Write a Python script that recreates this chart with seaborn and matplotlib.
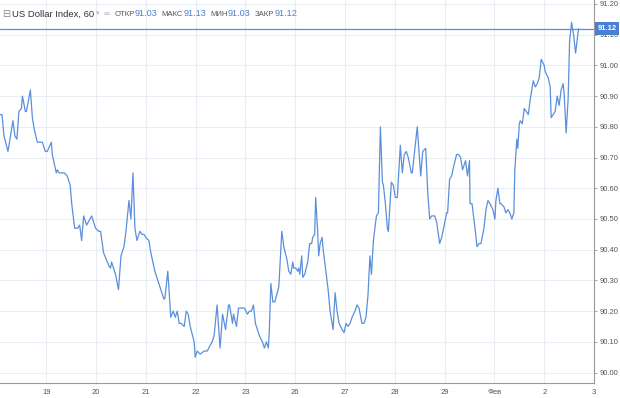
import numpy as np
import pandas as pd
import matplotlib
matplotlib.use("Agg")
import matplotlib.pyplot as plt
import seaborn as sns

# hourly DXY trace, t = days from the "19" session boundary
t = [-0.93, -0.89, -0.85, -0.77, -0.67, -0.63, -0.59, -0.55, -0.50, -0.48, -0.42, -0.40,
     -0.32, -0.28, -0.24, -0.18, -0.12, -0.08, -0.02, 0.02, 0.10, 0.12, 0.20, 0.22, 0.26,
     0.30, 0.36, 0.42, 0.48, 0.51, 0.57, 0.63, 0.67, 0.71, 0.75, 0.81, 0.91, 0.99, 1.05,
     1.09, 1.15, 1.25, 1.29, 1.31, 1.39, 1.45, 1.50, 1.56, 1.60, 1.66, 1.70, 1.74, 1.78,
     1.82, 1.88, 1.92, 1.96, 2.00, 2.06, 2.10, 2.18, 2.24, 2.30, 2.36, 2.38, 2.44, 2.50,
     2.55, 2.59, 2.63, 2.67, 2.71, 2.77, 2.81, 2.85, 2.89, 2.97, 2.99, 3.03, 3.09, 3.17,
     3.23, 3.33, 3.37, 3.43, 3.49, 3.54, 3.60, 3.66, 3.68, 3.74, 3.76, 3.82, 3.86, 3.90,
     3.94, 3.98, 4.04, 4.08, 4.12, 4.16, 4.20, 4.26, 4.28, 4.34, 4.38, 4.42, 4.46, 4.48,
     4.51, 4.55, 4.59, 4.67, 4.73, 4.77, 4.83, 4.87, 4.91, 4.95, 4.97, 5.01, 5.05, 5.07,
     5.09, 5.13, 5.15, 5.19, 5.25, 5.29, 5.33, 5.35, 5.39, 5.41, 5.45, 5.47, 5.50, 5.54,
     5.56, 5.60, 5.66, 5.70, 5.76, 5.80, 5.84, 5.88, 5.94, 5.98, 6.02, 6.06, 6.10, 6.14,
     6.20, 6.24, 6.28, 6.34, 6.38, 6.42, 6.46, 6.50, 6.53, 6.57, 6.63, 6.67, 6.71, 6.75,
     6.77, 6.81, 6.85, 6.87, 6.93, 6.97, 7.01, 7.05, 7.11, 7.15, 7.19, 7.23, 7.27, 7.33,
     7.35, 7.39, 7.45, 7.49, 7.52, 7.56, 7.62, 7.66, 7.70, 7.74, 7.80, 7.84, 7.90, 7.94,
     7.98, 8.04, 8.06, 8.10, 8.14, 8.18, 8.24, 8.28, 8.32, 8.36, 8.42, 8.46, 8.50, 8.51,
     8.55, 8.61, 8.65, 8.69, 8.73, 8.79, 8.83, 8.87, 8.91, 8.97, 9.01, 9.03, 9.07, 9.11,
     9.13, 9.19, 9.23, 9.27, 9.31, 9.35, 9.39, 9.41, 9.45, 9.47, 9.50, 9.52, 9.56, 9.60,
     9.64, 9.68, 9.72, 9.78, 9.82, 9.86, 9.90, 9.94, 10.00, 10.02, 10.08, 10.12, 10.14,
     10.18, 10.22, 10.26, 10.30, 10.34, 10.38, 10.40, 10.44, 10.48, 10.51, 10.55, 10.59,
     10.63, 10.69]

price = [90.84, 90.84, 90.77, 90.72, 90.82, 90.77, 90.76, 90.85, 90.86, 90.90, 90.85, 90.85,
         90.92, 90.83, 90.79, 90.75, 90.75, 90.75, 90.72, 90.72, 90.75, 90.71, 90.65, 90.66, 90.65,
         90.65, 90.65, 90.64, 90.61, 90.55, 90.47, 90.47, 90.48, 90.43, 90.51, 90.48, 90.51, 90.47, 90.46,
         90.46, 90.39, 90.35, 90.34, 90.36, 90.32, 90.27, 90.38, 90.41, 90.46, 90.56, 90.50, 90.65, 90.47,
         90.43, 90.46, 90.45, 90.45, 90.44, 90.43, 90.39, 90.33, 90.30, 90.27, 90.24, 90.24, 90.33, 90.18,
         90.20, 90.18, 90.20, 90.16, 90.16, 90.15, 90.20, 90.19, 90.15, 90.10, 90.05, 90.07, 90.06, 90.07,
         90.07, 90.10, 90.12, 90.22, 90.08, 90.19, 90.14, 90.22, 90.22, 90.16, 90.19, 90.15, 90.21, 90.21,
         90.21, 90.21, 90.19, 90.20, 90.20, 90.22, 90.16, 90.13, 90.12, 90.10, 90.08, 90.10, 90.08, 90.14,
         90.29, 90.23, 90.23, 90.28, 90.46, 90.41, 90.37, 90.33, 90.32, 90.36, 90.34, 90.34, 90.33, 90.34,
         90.32, 90.38, 90.31, 90.32, 90.36, 90.42, 90.42, 90.44, 90.45, 90.57, 90.46, 90.38, 90.42, 90.44,
         90.40, 90.35, 90.27, 90.20, 90.14, 90.26, 90.20, 90.16, 90.14, 90.13, 90.16, 90.15, 90.16, 90.18,
         90.20, 90.22, 90.21, 90.16, 90.16, 90.18, 90.25, 90.38, 90.32, 90.43, 90.51, 90.52, 90.80, 90.62,
         90.61, 90.55, 90.47, 90.46, 90.62, 90.61, 90.57, 90.57, 90.74, 90.65, 90.71, 90.72, 90.70, 90.65,
         90.65, 90.71, 90.80, 90.71, 90.64, 90.72, 90.73, 90.59, 90.50, 90.51, 90.51, 90.49, 90.42, 90.44,
         90.47, 90.52, 90.52, 90.63, 90.64, 90.67, 90.71, 90.71, 90.70, 90.66, 90.69, 90.64, 90.69, 90.55,
         90.55, 90.47, 90.41, 90.42, 90.42, 90.47, 90.53, 90.56, 90.55, 90.53, 90.50, 90.56, 90.60, 90.55,
         90.55, 90.54, 90.52, 90.53, 90.52, 90.50, 90.52, 90.66, 90.76, 90.73, 90.81, 90.82, 90.81, 90.86,
         90.85, 90.84, 90.89, 90.95, 90.93, 90.94, 90.96, 91.02, 91.00, 90.98, 90.96, 90.93, 90.83,
         90.84, 90.85, 90.90, 90.87, 90.92, 90.94, 90.91, 90.78, 90.89, 91.08, 91.14, 91.10,
         91.04, 91.12]

day_labels = ["19", "20", "21", "22", "23", "26", "27", "28", "29", "Фев", "2", "3"]
y_ticks = [90.00, 90.10, 90.20, 90.30, 90.40, 90.50, 90.60, 90.70, 90.80, 90.90, 91.00, 91.10, 91.20]
last_close = 91.12
header = [("ОТКР", "91.03"), ("МАКС", "91.13"), ("МИН", "91.03"), ("ЗАКР", "91.12")]

df = pd.DataFrame({"t": t, "price": price})

sns.set_style("white")
plt.rcParams["font.family"] = ["Liberation Sans", "DejaVu Sans"]

W, H = 620, 398
fig = plt.figure(figsize=(W / 100, H / 100), dpi=100)
ax = fig.add_axes([0, 1 - 383 / H, 594 / W, 383 / H])

line_col = "#5b8fdc"
grid_col = "#e9eef5"
axis_col = "#9a9a9a"
text_col = "#555555"
blue_txt = "#4a7fd4"

sns.lineplot(data=df, x="t", y="price", ax=ax, color=line_col, linewidth=0.9)

ax.set_xlim(-0.93, 10.83)
ax.set_ylim(89.966, 91.213)

ax.set_xticks(range(len(day_labels)))
ax.set_xticklabels(day_labels)
ax.set_yticks(y_ticks)
ax.set_yticklabels([f"{v:.2f}" for v in y_ticks])
ax.yaxis.tick_right()
ax.grid(True, color=grid_col, linewidth=0.8)
ax.set_axisbelow(True)
ax.set_xlabel("")
ax.set_ylabel("")

for s in ["top", "left"]:
    ax.spines[s].set_visible(False)
for s in ["right", "bottom"]:
    ax.spines[s].set_color(axis_col)
    ax.spines[s].set_linewidth(0.8)

ax.tick_params(axis="x", length=2.5, width=0.6, color=axis_col, labelsize=5.5, labelcolor=text_col, pad=1.5)
ax.tick_params(axis="y", length=2.5, width=0.6, color=axis_col, labelsize=5.5, labelcolor=text_col, pad=1.5)

# last price line and badge
ax.axhline(last_close, color=line_col, linewidth=0.9)
ax.annotate(f"{last_close:.2f}", xy=(1.0, last_close), xycoords=("axes fraction", "data"),
            xytext=(2.5, 0), textcoords="offset points", va="center", ha="left",
            fontsize=5.5, color="white", fontweight="bold",
            bbox=dict(boxstyle="square,pad=0.35", fc=blue_txt, ec="none"))

# header, pieces chained left to right
yh = 1 - 14 / H
fig.canvas.draw()
rend = fig.canvas.get_renderer()


def put(x_px, s, size, color, gap):
    tx = fig.text(x_px / W, yh, s, fontsize=size, color=color, va="center")
    return tx.get_window_extent(rend).x1 + gap


x = put(2, "⊟", 7, "#888888", 1.5)
x = put(x, "US Dollar Index, 60", 6.8, "#333333", 2)
x = put(x, "▾", 5, "#bbbbbb", 4)
x = put(x, "▫▫", 7, "#aaaaaa", 4)
for lab, val in header:
    x = put(x, lab, 5.6, "#555555", 0.3)
    x = put(x, val, 6.6, blue_txt, 4)

fig.savefig("out.png", dpi=100)
